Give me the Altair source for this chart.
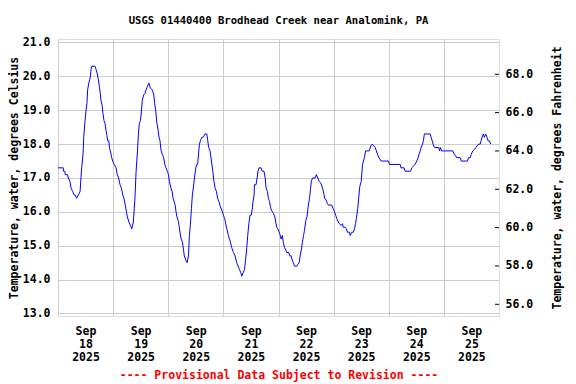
import altair as alt
import pandas as pd

TITLE = "USGS 01440400 Brodhead Creek near Analomink, PA"
FOOTER = "---- Provisional Data Subject to Revision ----"
Y_LEFT_TITLE = "Temperature, water, degrees Celsius"
Y_RIGHT_TITLE = "Temperature, water, degrees Fahrenheit"

# hours since 2025-09-18 00:00
HOURS = [0, 2.3, 2.4, 3.0, 3.1, 4.1, 4.5, 5.2, 5.7, 6.4, 7.0, 7.4, 8.1, 8.9, 9.6, 10.0, 10.3, 10.9,
         11.2, 11.8, 12.2, 12.6, 12.9, 13.4, 13.8, 14.1, 14.4, 14.7, 16.1, 16.6, 17.0, 17.6, 18.0,
         18.4, 18.7, 19.2, 19.6, 20.0, 20.5, 20.9, 21.2, 21.6, 22.1, 22.4, 22.8, 23.4, 23.8, 24.5,
         25.3, 25.8, 26.4, 27.0, 27.6, 28.2, 28.7, 29.3, 29.8, 30.2, 30.9, 31.5, 32.1, 32.8, 33.2,
         33.5, 34.0, 34.6, 35.0, 35.4, 35.9, 36.3, 36.7, 37.3, 37.9, 38.3, 38.9, 39.6, 40.2, 41.1,
         41.7, 42.1, 42.5, 43.0, 43.6, 44.0, 44.4, 44.9, 45.4, 46.0, 46.5, 47.0, 47.6, 48.1, 48.5,
         49.2, 49.7, 50.1, 51.0, 51.4, 51.8, 52.3, 52.7, 53.1, 53.6, 54.2, 54.6, 55.0, 55.8, 56.2,
         56.8, 57.2, 57.6, 58.1, 58.5, 58.9, 59.4, 60.0, 60.4, 60.8, 61.3, 61.6, 62.0, 62.6, 63.2,
         64.0, 64.8, 65.2, 65.6, 66.2, 66.8, 67.4, 67.9, 68.4, 69.0, 69.5, 70.1, 70.7, 71.6, 72.0,
         72.6, 73.0, 73.5, 74.2, 75.1, 75.6, 76.4, 77.1, 77.8, 78.4, 79.0, 79.6, 80.0, 80.6, 81.2,
         81.7, 82.2, 82.6, 83.1, 83.6, 84.1, 84.5, 84.9, 85.4, 85.5, 86.2, 86.7, 87.1, 87.5, 88.4,
         88.9, 89.7, 90.2, 90.6, 91.2, 91.6, 92.1, 92.5, 92.9, 93.4, 93.8, 94.4, 94.8, 95.2, 95.7,
         96.3, 96.8, 97.1, 97.7, 98.1, 98.6, 99.0, 99.6, 100.5, 100.9, 101.5, 102.1, 102.5, 102.9,
         104.0, 104.4, 105.0, 105.4, 106.0, 106.4, 106.9, 107.3, 107.9, 108.4, 108.9, 109.5, 109.9,
         110.3, 110.8, 111.9, 112.5, 113.1, 113.7, 114.4, 115.2, 115.7, 116.1, 116.7, 117.3, 117.7,
         119.2, 119.8, 120.4, 120.9, 121.4, 122.0, 122.5, 123.3, 123.9, 124.1, 125.0, 125.6, 126.0,
         126.9, 127.2, 127.9, 128.6, 129.1, 129.5, 129.9, 130.5, 130.9, 131.4, 132.0, 132.6, 133.0,
         133.4, 133.9, 135.5, 136.2, 136.8, 137.5, 138.1, 138.6, 139.1, 139.7, 140.7, 141.6, 143.9,
         144.3, 149.0, 149.3, 150.7, 151.1, 153.5, 154.0, 154.8, 155.4, 156.2, 156.8, 157.2, 157.7,
         158.1, 158.7, 159.1, 159.5, 162.0, 162.5, 162.9, 163.3, 163.9, 165.8, 166.1, 166.5, 167.0,
         171.9, 172.5, 173.2, 173.6, 175.1, 175.6, 178.3, 178.7, 179.5, 179.9, 180.6, 181.4, 181.9,
         183.1, 183.8, 184.2, 184.8, 185.2, 185.6, 186.2, 186.8, 187.2, 187.8, 188.4]

TEMP_C = [17.3, 17.3, 17.2, 17.2, 17.1, 17.1, 17.0, 16.9, 16.7, 16.6, 16.5, 16.5, 16.4, 16.5, 16.6,
          17.0, 17.3, 17.7, 18.2, 18.7, 19.0, 19.2, 19.6, 19.8, 19.9, 20.0, 20.2, 20.3, 20.3, 20.2,
          20.1, 19.9, 19.7, 19.5, 19.3, 19.15, 18.9, 18.7, 18.6, 18.4, 18.3, 18.1, 18.1, 17.9, 17.8,
          17.6, 17.5, 17.4, 17.3, 17.1, 17.0, 16.8, 16.7, 16.5, 16.4, 16.2, 16.0, 15.85, 15.7, 15.6,
          15.5, 15.7, 16.1, 16.4, 17.2, 17.8, 18.3, 18.6, 18.7, 18.95, 19.3, 19.45, 19.5, 19.6, 19.7,
          19.8, 19.65, 19.6, 19.45, 19.2, 19.0, 18.65, 18.4, 18.2, 18.1, 17.8, 17.7, 17.6, 17.4, 17.3,
          17.2, 17.1, 16.9, 16.7, 16.6, 16.4, 16.2, 16.0, 15.85, 15.75, 15.6, 15.4, 15.2, 15.1, 14.9,
          14.7, 14.55, 14.5, 14.7, 15.3, 15.6, 16.1, 16.5, 16.7, 17.0, 17.3, 17.4, 17.4, 17.8, 18.0,
          18.1, 18.2, 18.2, 18.3, 18.3, 18.1, 17.9, 17.8, 17.5, 17.2, 16.9, 16.7, 16.6, 16.4, 16.3,
          16.15, 16.0, 15.9, 15.8, 15.65, 15.5, 15.3, 15.1, 14.95, 14.8, 14.7, 14.5, 14.4, 14.3, 14.2,
          14.1, 14.2, 14.3, 14.6, 14.95, 15.3, 15.65, 15.9, 15.9, 16.05, 16.3, 16.5, 16.8, 16.8, 17.0,
          17.2, 17.3, 17.3, 17.2, 17.2, 17.0, 16.7, 16.6, 16.4, 16.3, 16.15, 16.05, 16.0, 15.95, 15.85,
          15.7, 15.55, 15.5, 15.4, 15.3, 15.2, 15.3, 15.1, 14.95, 14.9, 14.8, 14.8, 14.7, 14.7, 14.55,
          14.5, 14.4, 14.4, 14.45, 14.5, 14.7, 14.9, 15.1, 15.3, 15.45, 15.75, 15.85, 16.15, 16.4,
          16.65, 16.9, 17.0, 17.0, 17.1, 17.0, 16.9, 16.85, 16.7, 16.55, 16.4, 16.35, 16.25, 16.2,
          16.2, 16.1, 16.0, 15.9, 15.8, 15.7, 15.65, 15.6, 15.65, 15.55, 15.55, 15.5, 15.4, 15.4, 15.3,
          15.4, 15.4, 15.5, 15.65, 15.8, 16.1, 16.4, 16.75, 16.9, 17.4, 17.5, 17.6, 17.8, 17.8, 17.95,
          18.0, 17.95, 17.9, 17.8, 17.7, 17.6, 17.5, 17.5, 17.5, 17.4, 17.4, 17.3, 17.3, 17.2, 17.2,
          17.3, 17.35, 17.4, 17.5, 17.6, 17.7, 17.8, 17.9, 18.0, 18.1, 18.3, 18.3, 18.2, 18.1, 18.0,
          17.9, 17.9, 17.8, 17.9, 17.8, 17.8, 17.7, 17.65, 17.6, 17.6, 17.5, 17.5, 17.6, 17.6, 17.7,
          17.8, 17.85, 17.9, 18.0, 18.0, 18.1, 18.25, 18.3, 18.2, 18.3, 18.2, 18.1, 18.1, 18.0]

C_TICKS = [13, 14, 15, 16, 17, 18, 19, 20, 21]
F_TICKS = [56, 58, 60, 62, 64, 66, 68]
DAYS = [18, 19, 20, 21, 22, 23, 24, 25]

FONT = "DejaVu Sans Mono"
FS = 11.5

base = pd.Timestamp("2025-09-18")
times = base + pd.to_timedelta(HOURS, unit="h")
df = pd.DataFrame({"t": times.strftime("%Y-%m-%dT%H:%M:%SZ"), "c": TEMP_C})
df_f = pd.DataFrame({"f": F_TICKS})

font_kw = dict(
    labelFont=FONT, labelFontSize=FS, labelFontWeight="bold", labelColor="black",
    titleFont=FONT, titleFontSize=FS, titleFontWeight="bold",
)

x_scale = alt.Scale(
    type="utc",
    domain=[alt.DateTime(year=2025, month=9, date=18, utc=True),
            alt.DateTime(year=2025, month=9, date=26, utc=True)],
)

x_axis = alt.Axis(
    values=[alt.DateTime(year=2025, month=9, date=d, utc=True) for d in DAYS],
    labelExpr="[utcFormat(datum.value, '%b'), utcFormat(datum.value, '%d'), utcFormat(datum.value, '%Y')]",
    labelOffset=27.5,
    labelAlign="center",
    labelBaseline="top",
    labelLineHeight=13,
    labelPadding=9,
    labelFlush=False,
    labelOverlap=False,
    tickSize=0,
    domain=False,
    grid=True,
    gridColor="#cccccc",
    title=FOOTER,
    titleColor="#ff0000",
    titlePadding=7,
    **font_kw,
)

line = alt.Chart(df).mark_line(color="#0000ff", strokeWidth=1).encode(
    x=alt.X("t:T", scale=x_scale, axis=x_axis),
    y=alt.Y(
        "c:Q",
        scale=alt.Scale(domain=[12.926, 21.103], nice=False, zero=False),
        axis=alt.Axis(
            values=C_TICKS, format=".1f", tickSize=0, labelPadding=8, domain=False,
            grid=True, gridColor="#cccccc", title=Y_LEFT_TITLE, titlePadding=3,
            titleColor="black", **font_kw,
        ),
    ),
)

fticks = alt.Chart(df_f).mark_rule(color="black", strokeWidth=1).encode(
    x=alt.value(437),
    x2=alt.value(441),
    y=alt.Y(
        "f:Q",
        scale=alt.Scale(domain=[55.39, 69.84], nice=False, zero=False),
        axis=alt.Axis(
            orient="right", values=F_TICKS, format=".1f", tickSize=0, labelPadding=6,
            domain=False, grid=False, title=Y_RIGHT_TITLE, titlePadding=30,
            titleAngle=270, titleColor="black", **font_kw,
        ),
    ),
)

chart = (
    alt.layer(line, fticks)
    .resolve_scale(y="independent")
    .properties(
        width=441,
        height=277,
        autosize=alt.AutoSizeParams(type="none"),
        padding={"left": 50, "top": 31, "right": 69, "bottom": 72},
        title=alt.TitleParams(TITLE, font=FONT, fontSize=10.6, fontWeight="bold",
                              anchor="middle", offset=10, color="black"),
    )
    .configure_view(stroke="black", strokeWidth=1)
    .configure(background="white")
)

chart.save("out.html", embed_options={"renderer": "svg", "actions": False})
